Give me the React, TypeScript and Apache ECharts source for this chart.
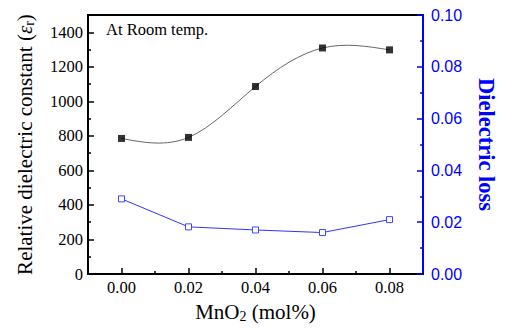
import React, { useEffect, useRef } from "react";
import * as echarts from "echarts";

const mnO2 = [0.0, 0.02, 0.04, 0.06, 0.08];
const dielectricConstant = [785, 791, 1086, 1309, 1298];
const dielectricLoss = [0.029, 0.0182, 0.017, 0.016, 0.021];

const xMajorTicks = [0.0, 0.02, 0.04, 0.06, 0.08];
const xMinorTicks = [0.01, 0.03, 0.05, 0.07];
const leftMajorTicks = [0, 200, 400, 600, 800, 1000, 1200, 1400];
const leftMinorTicks = [100, 300, 500, 700, 900, 1100, 1300];

const SERIF = "'Liberation Serif', 'Times New Roman', serif";
const SANS = "'Liberation Sans', Arial, sans-serif";
const BLUE = "#0000ff";

// natural cubic spline slopes (data space) used only to draw the curve through the points
function splineSlopes(xs: number[], ys: number[]): number[] {
  const n = xs.length;
  const h: number[] = [];
  for (let i = 0; i < n - 1; i++) h.push(xs[i + 1] - xs[i]);
  const a: number[] = new Array(n).fill(0);
  const b: number[] = new Array(n).fill(1);
  const c: number[] = new Array(n).fill(0);
  const r: number[] = new Array(n).fill(0);
  for (let i = 1; i < n - 1; i++) {
    a[i] = h[i - 1];
    b[i] = 2 * (h[i - 1] + h[i]);
    c[i] = h[i];
    r[i] = 6 * ((ys[i + 1] - ys[i]) / h[i] - (ys[i] - ys[i - 1]) / h[i - 1]);
  }
  const cp = new Array(n).fill(0);
  const dp = new Array(n).fill(0);
  cp[0] = c[0] / b[0];
  dp[0] = r[0] / b[0];
  for (let i = 1; i < n; i++) {
    const m = b[i] - a[i] * cp[i - 1];
    cp[i] = c[i] / m;
    dp[i] = (r[i] - a[i] * dp[i - 1]) / m;
  }
  const M = new Array(n).fill(0);
  M[n - 1] = dp[n - 1];
  for (let i = n - 2; i >= 0; i--) M[i] = dp[i] - cp[i] * M[i + 1];
  const d: number[] = [];
  for (let i = 0; i < n - 1; i++) {
    d.push((ys[i + 1] - ys[i]) / h[i] - (h[i] * (2 * M[i] + M[i + 1])) / 6);
  }
  d.push((ys[n - 1] - ys[n - 2]) / h[n - 2] + (h[n - 2] * (M[n - 2] + 2 * M[n - 1])) / 6);
  return d;
}

export default function App() {
  const ref = useRef<HTMLDivElement>(null);
  useEffect(() => {
    if (!ref.current) return;
    const chart = echarts.init(ref.current, undefined, { renderer: "svg" });
    const slopes = splineSlopes(mnO2, dielectricConstant);
    chart.setOption({
      animation: false,
      backgroundColor: "#ffffff",
      grid: {
        left: 88,
        right: 69,
        top: 15,
        bottom: 54,
        show: true,
        borderColor: "#000",
        borderWidth: 2,
        backgroundColor: "transparent",
      },
      graphic: [
        {
          type: "text",
          left: 106,
          top: 21,
          style: { text: "At Room temp.", font: `16.5px ${SERIF}`, fill: "#000" },
        },
      ],
      xAxis: [
        {
          type: "value",
          min: -0.01,
          max: 0.09,
          position: "bottom",
          axisLine: { show: true, onZero: false, lineStyle: { color: "#000", width: 2 } },
          axisTick: {
            show: true,
            inside: true,
            length: 6,
            customValues: xMajorTicks,
            lineStyle: { color: "#000", width: 1.5 },
          },
          axisLabel: {
            customValues: xMajorTicks,
            formatter: (v: number) => v.toFixed(2),
            fontFamily: SERIF,
            fontSize: 16.5,
            color: "#000",
            margin: 5,
          },
          splitLine: { show: false },
          name: "MnO{s|2} (mol%)",
          nameLocation: "middle",
          nameGap: 26,
          nameTextStyle: {
            fontFamily: SERIF,
            fontSize: 21,
            color: "#000",
            rich: { s: { fontFamily: SERIF, fontSize: 14, verticalAlign: "bottom", padding: [9, 0, 0, 0] } },
          },
        },
        {
          type: "value",
          min: -0.01,
          max: 0.09,
          position: "bottom",
          axisLine: { show: false, onZero: false },
          axisTick: {
            show: true,
            inside: true,
            length: 3,
            customValues: xMinorTicks,
            lineStyle: { color: "#000", width: 1.5 },
          },
          axisLabel: { show: false },
          splitLine: { show: false },
        },
      ],
      yAxis: [
        {
          type: "value",
          min: 0,
          max: 1500,
          position: "left",
          axisLine: { show: true, onZero: false, lineStyle: { color: "#000", width: 2 } },
          axisTick: {
            show: true,
            inside: true,
            length: 6,
            customValues: leftMajorTicks,
            lineStyle: { color: "#000", width: 1.5 },
          },
          axisLabel: {
            customValues: leftMajorTicks,
            formatter: (v: number) => String(v),
            fontFamily: SERIF,
            fontSize: 16.5,
            color: "#000",
            margin: 5,
          },
          splitLine: { show: false },
          name: "Relative dielectric constant ({e|ε}{s|r})",
          nameLocation: "middle",
          nameRotate: 90,
          nameGap: 52,
          nameTextStyle: {
            fontFamily: SERIF,
            fontSize: 21,
            color: "#000",
            rich: {
              e: { fontFamily: SERIF, fontSize: 21, fontStyle: "italic" },
              s: { fontFamily: SERIF, fontSize: 14, verticalAlign: "bottom", padding: [9, 0, 0, 0] },
            },
          },
        },
        {
          type: "value",
          min: 0,
          max: 0.1,
          interval: 0.02,
          position: "right",
          axisLine: { show: true, onZero: false, lineStyle: { color: BLUE, width: 2 } },
          axisTick: { show: true, inside: true, length: 6, lineStyle: { color: BLUE, width: 1.5 } },
          minorTick: { show: true, splitNumber: 2, length: 3, lineStyle: { color: BLUE, width: 1.5 } },
          axisLabel: {
            formatter: (v: number) => v.toFixed(2),
            fontFamily: SANS,
            fontSize: 16,
            color: BLUE,
            margin: 8,
          },
          splitLine: { show: false },
          minorSplitLine: { show: false },
          name: "Dielectric loss",
          nameLocation: "middle",
          nameRotate: -90,
          nameGap: 52,
          nameTextStyle: { fontFamily: SERIF, fontSize: 22.5, fontWeight: "bold", color: BLUE },
        },
        {
          type: "value",
          min: 0,
          max: 1500,
          position: "left",
          axisLine: { show: false, onZero: false },
          axisTick: {
            show: true,
            inside: true,
            length: 3,
            customValues: leftMinorTicks,
            lineStyle: { color: "#000", width: 1.5 },
          },
          axisLabel: { show: false },
          splitLine: { show: false },
        },
      ],
      series: [
        {
          type: "custom",
          xAxisIndex: 0,
          yAxisIndex: 0,
          data: mnO2.map((x, i) => [x, dielectricConstant[i]]),
          encode: { x: 0, y: 1 },
          z: 2,
          renderItem: (params: any, api: any) => {
            if (params.dataIndex !== 0) return null;
            const children: any[] = [];
            for (let i = 0; i < mnO2.length - 1; i++) {
              const x0 = mnO2[i];
              const x1 = mnO2[i + 1];
              const y0 = dielectricConstant[i];
              const y1 = dielectricConstant[i + 1];
              const h = x1 - x0;
              const p0 = api.coord([x0, y0]);
              const p1 = api.coord([x1, y1]);
              const c0 = api.coord([x0 + h / 3, y0 + (slopes[i] * h) / 3]);
              const c1 = api.coord([x1 - h / 3, y1 - (slopes[i + 1] * h) / 3]);
              children.push({
                type: "bezierCurve",
                shape: {
                  x1: p0[0],
                  y1: p0[1],
                  cpx1: c0[0],
                  cpy1: c0[1],
                  cpx2: c1[0],
                  cpy2: c1[1],
                  x2: p1[0],
                  y2: p1[1],
                },
                style: { stroke: "#666", lineWidth: 1, fill: "none" },
              });
            }
            return { type: "group", children };
          },
        },
        {
          type: "scatter",
          xAxisIndex: 0,
          yAxisIndex: 0,
          data: mnO2.map((x, i) => [x, dielectricConstant[i]]),
          symbol: "rect",
          symbolSize: 7,
          itemStyle: { color: "#000" },
          z: 3,
        },
        {
          type: "line",
          xAxisIndex: 0,
          yAxisIndex: 1,
          data: mnO2.map((x, i) => [x, dielectricLoss[i]]),
          symbol: "rect",
          symbolSize: 6,
          showAllSymbol: true,
          itemStyle: { color: "#fff", borderColor: "#4444ff", borderWidth: 1 },
          lineStyle: { color: "#3333ff", width: 1 },
          z: 3,
        },
      ],
    });
    return () => chart.dispose();
  }, []);
  return <div ref={ref} style={{ width: 506, height: 328, position: "absolute", left: 0, top: 0 }} />;
}
